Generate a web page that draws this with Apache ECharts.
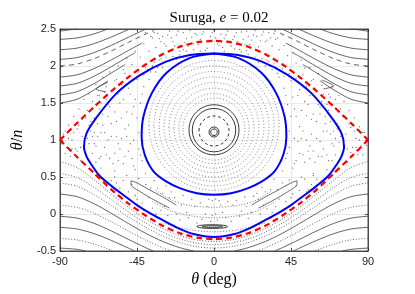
<!DOCTYPE html>
<html><head><meta charset="utf-8">
<script src="https://cdn.jsdelivr.net/npm/echarts@6/dist/echarts.min.js"></script>
<style>html,body{margin:0;padding:0;background:#fff}#c{width:415px;height:294px}</style>
</head><body><div id="c"></div>
<script>
// ---------- data ----------
const xTicks = [-90, -45, 0, 45, 90];
const yTicks = [-0.5, 0, 0.5, 1, 1.5, 2, 2.5];

const separatrixUpper = [[-90,1.0],[-80,1.23],[-70,1.45],[-60,1.66],[-50,1.85],[-40,2.02],[-30,2.16],[-20,2.26],[-10,2.32],[0,2.34],[10,2.32],[20,2.26],[30,2.16],[40,2.02],[50,1.85],[60,1.66],[70,1.45],[80,1.23],[90,1.0]];
const separatrixLower = [[-90,1.0],[-80,0.77],[-70,0.55],[-60,0.33],[-50,0.14],[-40,-0.02],[-30,-0.16],[-20,-0.26],[-10,-0.32],[0,-0.34],[10,-0.32],[20,-0.26],[30,-0.16],[40,-0.02],[50,0.14],[60,0.33],[70,0.55],[80,0.77],[90,1.0]];

const blueOuter = [[0,2.17],[-14,2.15],[-28,2.06],[-43,1.88],[-57,1.63],[-68.5,1.31],[-74.5,1.09],[-76,0.91],[-74.5,0.78],[-72,0.68],[-67,0.52],[-60,0.38],[-52,0.24],[-45,0.12],[-38,0.02],[-31,-0.07],[-22,-0.18],[-12,-0.27],[0,-0.31],[12,-0.27],[22,-0.18],[31,-0.07],[38,0.02],[45,0.12],[52,0.24],[60,0.38],[67,0.52],[72,0.68],[74.5,0.78],[76,0.91],[74.5,1.09],[68.5,1.31],[57,1.63],[43,1.88],[28,2.06],[14,2.15],[0,2.17]];
const blueInner = [[0,2.17],[-14,2.11],[-27.7,1.91],[-36.4,1.63],[-41.3,1.31],[-42.3,1.04],[-40.5,0.8],[-35.5,0.58],[-28,0.44],[-20,0.35],[-10,0.28],[0,0.26],[10,0.28],[20,0.35],[28,0.44],[35.5,0.58],[40.5,0.8],[42.3,1.04],[41.3,1.31],[36.4,1.63],[27.7,1.91],[14,2.11],[0,2.17]];

// rotation curves above the separatrix
const upper1L = [[-90,2.47],[-84,2.49],[-80,2.5]];
const upper2L = [[-90,2.36],[-80,2.38],[-70,2.435],[-62,2.5]];
const upper3L = [[-90,2.22],[-80,2.242],[-70,2.303],[-60,2.392],[-50,2.493],[-49.5,2.5]];
const upper4L = [[-90,2.09],[-80,2.114],[-70,2.182],[-60,2.279],[-50,2.389],[-40,2.497]];
const upper5L = [[-90,2.0],[-80,2.027],[-70,2.1],[-60,2.204],[-50,2.32],[-40,2.431],[-35,2.48]];
const upper6L = [[-90,1.85],[-80,1.881],[-70,1.966],[-60,2.082],[-50,2.21],[-42,2.31]];
const upper7L = [[-90,1.73],[-80,1.766],[-70,1.862],[-60,1.991],[-50,2.129],[-46,2.18]];
const upper8L = [[-90,1.61],[-80,1.653],[-70,1.763],[-60,1.906],[-52,2.02]];
const upper9L = [[-90,1.5],[-80,1.551],[-70,1.678],[-62,1.8]];
const upper1R = [[90,2.47],[84,2.49],[80,2.5]];
const upper2R = [[90,2.36],[80,2.38],[70,2.435],[62,2.5]];
const upper3R = [[90,2.22],[80,2.242],[70,2.303],[60,2.392],[50,2.493],[49.5,2.5]];
const upper4R = [[90,2.09],[80,2.114],[70,2.182],[60,2.279],[50,2.389],[40,2.497]];
const upper5R = [[90,2.0],[80,2.027],[70,2.1],[60,2.204],[50,2.32],[40,2.431],[35,2.48]];
const upper6R = [[90,1.85],[80,1.881],[70,1.966],[60,2.082],[50,2.21],[42,2.31]];
const upper7R = [[90,1.73],[80,1.766],[70,1.862],[60,1.991],[50,2.129],[46,2.18]];
const upper8R = [[90,1.61],[80,1.653],[70,1.763],[60,1.906],[52,2.02]];
const upper9R = [[90,1.5],[80,1.551],[70,1.678],[62,1.8]];

// rotation curves below the separatrix
const lower1 = [[-90,0.71],[-80,0.628],[-70,0.458],[-60,0.27],[-50,0.091],[-40,-0.067],[-30,-0.196],[-20,-0.292],[-10,-0.351],[0,-0.371],[10,-0.351],[20,-0.292],[30,-0.196],[40,-0.067],[50,0.091],[60,0.27],[70,0.458],[80,0.628],[90,0.71]];
const lower2 = [[-90,0.55],[-80,0.493],[-70,0.358],[-60,0.193],[-50,0.028],[-40,-0.121],[-30,-0.245],[-20,-0.337],[-10,-0.394],[0,-0.414],[10,-0.394],[20,-0.337],[30,-0.245],[40,-0.121],[50,0.028],[60,0.193],[70,0.358],[80,0.493],[90,0.55]];
const lower3 = [[-90,0.42],[-80,0.375],[-70,0.261],[-60,0.114],[-50,-0.038],[-40,-0.179],[-30,-0.297],[-20,-0.386],[-10,-0.442],[0,-0.46],[10,-0.442],[20,-0.386],[30,-0.297],[40,-0.179],[50,-0.038],[60,0.114],[70,0.261],[80,0.375],[90,0.42]];
const lower4L = [[-90,0.27],[-80,0.234],[-70,0.138],[-60,0.009],[-50,-0.129],[-40,-0.26],[-30,-0.371],[-20,-0.455],[-12,-0.5]];
const lower5L = [[-90,0.12],[-80,0.09],[-70,0.008],[-60,-0.106],[-50,-0.231],[-40,-0.352],[-30,-0.457],[-25,-0.5]];
const lower6L = [[-90,-0.03],[-80,-0.056],[-70,-0.127],[-60,-0.229],[-50,-0.343],[-40,-0.454],[-35.5,-0.5]];
const lower7L = [[-90,-0.18],[-80,-0.203],[-70,-0.266],[-60,-0.357],[-50,-0.461],[-46.3,-0.5]];
const lower8L = [[-90,-0.33],[-80,-0.35],[-70,-0.407],[-60,-0.489],[-58.8,-0.5]];
const lower9L = [[-90,-0.46],[-80,-0.478],[-75,-0.5]];
const lower4R = [[90,0.27],[80,0.234],[70,0.138],[60,0.009],[50,-0.129],[40,-0.26],[30,-0.371],[20,-0.455],[12,-0.5]];
const lower5R = [[90,0.12],[80,0.09],[70,0.008],[60,-0.106],[50,-0.231],[40,-0.352],[30,-0.457],[25,-0.5]];
const lower6R = [[90,-0.03],[80,-0.056],[70,-0.127],[60,-0.229],[50,-0.343],[40,-0.454],[35.5,-0.5]];
const lower7R = [[90,-0.18],[80,-0.203],[70,-0.266],[60,-0.357],[50,-0.461],[46.3,-0.5]];
const lower8R = [[90,-0.33],[80,-0.35],[70,-0.407],[60,-0.489],[58.8,-0.5]];
const lower9R = [[90,-0.46],[80,-0.478],[75,-0.5]];

// arcs between the two blue loops (bottom)
const arcBottom1 = [[-34,0.32],[-25,0.19],[-15,0.12],[0,0.09],[15,0.12],[25,0.19],[34,0.32]];
const arcBottom2 = [[-36,0.17],[-25,0.04],[-12,-0.03],[0,-0.05],[12,-0.03],[25,0.04],[36,0.17]];
const arcBottom3 = [[-30,-0.12],[-15,-0.21],[0,-0.24],[15,-0.21],[30,-0.12]];

// small islands
const tongueLeft = [[-22,0.12],[-30,0.23],[-38,0.33],[-45,0.42],[-48.5,0.45],[-48.5,0.4],[-43,0.3],[-35,0.19],[-26,0.08]];
const tongueRight = [[22,0.12],[30,0.23],[38,0.33],[45,0.42],[48.5,0.45],[48.5,0.4],[43,0.3],[35,0.19],[26,0.08]];
const chevronLeft = [[-62,1.78],[-69,1.69],[-63,1.65]];
const chevronRight = [[63,1.81],[70,1.73],[64,1.69]];

// libration rings: [thetaCentre, vCentre, halfWidthDeg, halfHeight]
const ringsSolid = [[0,1.105,1.93,0.045],[0,1.108,2.92,0.068],[0,1.133,12.7,0.293],[0,1.138,14.6,0.338]];
const ringsDashed = [[0,1.122,8.8,0.203]];
const ringsDotted = [[0,1.147,18.1,0.419],[0,1.153,20.5,0.473],[0,1.16,23.4,0.541],[0,1.168,26.3,0.608],[0,1.175,29.2,0.676],[0,1.183,32.1,0.743],[0,1.19,35.1,0.811],[0,1.198,38.0,0.878]];
const islandBottom = [[-1,-0.17,9,0.025],[-1,-0.17,6,0.011]];

// chaotic sea points
const chaosLeft = [[-73,0.95],[-72,1.12],[-71,0.82],[-70,1.3],[-69,0.7],[-68,1.05],[-67,1.42],[-66,0.62],[-65,1.2],[-64,0.9],[-63,1.55],[-62,1.32],[-61,0.75],[-60,1.05],[-59,1.68],[-58,0.58],[-57,1.25],[-56,0.95],[-55,1.5],[-54,1.75],[-53,0.68],[-52,1.15],[-51,1.38],[-50,0.85],[-49,1.62],[-48,1.8],[-47,1.0],[-46,0.6],[-45,1.3],[-44,1.92],[-43,1.5],[-42,0.72],[-41,1.72],[-40,1.98],[-38,1.82],[-36,2.0],[-34,1.92],[-32,2.08],[-30,1.98],[-26,2.07],[-22,2.09],[-18,2.12],
[-74,1.02],[-70,0.95],[-66,1.1],[-62,1.0],[-58,0.82],[-54,1.02],[-50,1.2],[-47,1.45],[-44,0.88],[-66,0.78],[-61,1.45],[-57,1.82],[-52,1.9],[-48,0.75],[-64,1.65],[-56,0.72],
[-88,1.08],[-86,0.9],[-85,1.2],[-83,1.0],[-82,1.32],[-80,1.15],[-79,1.42],[-77,1.28],[-76,1.55],[-74,1.4],[-73,1.62],[-71,1.52],[-69,1.75],[-67,1.6],[-65,1.85],[-63,1.72],[-61,1.92],[-58,1.8],[-56,2.0],[-53,1.95],[-51,2.1],[-48,2.02],[-46,2.2],[-43,2.12],[-41,2.3],[-38,2.2],[-36,2.38],[-34,2.25],[-31,2.33],
[-89,0.95],[-87,0.82],[-84,0.78],[-81,0.88],[-78,0.72],
[-60,0.45],[-58,0.5],[-55,0.35],[-53,0.45],[-51,0.52],[-50,0.3],[-46,0.25],[-44,0.48],[-42,0.15],[-40,0.4],[-38,0.22],[-36,0.08],[-35,0.45],[-33,0.35],[-31,0.05],[-30,0.28],[-28,0.38],[-27,-0.02],[-25,0.3],[-23,0.22],[-20,-0.08],[-18,0.25],[-16,0.02],[-13,0.2],[-10,-0.12],[-8,0.15],[-5,0.0],[-3,0.2],[-2,-0.1],
[-72,1.25],[-71,1.05],[-69,0.92],[-68,1.22],[-67,0.75],[-65,1.35],[-64,1.1],[-63,0.8],[-62,1.48],[-60,1.22],[-59,0.68],[-58,1.38],[-57,1.05],[-56,1.62],[-55,0.88],[-54,1.3],[-53,1.55],[-52,0.78],[-51,1.05],[-50,1.7],[-49,0.95],[-48,1.35],[-47,0.65],[-46,1.55],[-45,1.82],[-44,1.1],[-43,0.8],[-42,1.62],[-41,1.88],[-40,0.55],[-39,1.95],[-37,1.92],[-35,2.05],[-33,1.98],[-31,2.1],[-28,2.12],[-24,2.13],[-20,2.15],[-16,2.2],[-12,2.22],[-68,1.6],[-66,1.5],[-70,1.1],[-73,1.2],[-75,1.3],[-77,1.05],[-79,1.2],[-82,1.1],[-85,1.02],[-87,1.12],[-78,0.9],[-75,0.82],[-80,0.85],[-83,0.88],
[-57,0.42],[-54,0.28],[-48,0.4],[-45,0.2],[-41,0.05],[-37,0.35],[-34,0.0],[-29,0.1],[-26,0.22],[-22,0.0],[-19,0.12],[-15,-0.05],[-11,0.1],[-7,-0.07],[-4,0.1],[-1,-0.02],[-1,0.18]];
const chaosRight = [[73,0.97],[72,1.15],[71,0.8],[70,1.27],[69,0.72],[68,1.08],[67,1.4],[66,0.6],[65,1.22],[64,0.88],[63,1.52],[62,1.35],[61,0.78],[60,1.02],[59,1.7],[58,0.55],[57,1.28],[56,0.92],[55,1.48],[54,1.72],[53,0.7],[52,1.12],[51,1.4],[50,0.82],[49,1.6],[48,1.83],[47,1.02],[46,0.62],[45,1.32],[44,1.9],[43,1.48],[42,0.75],[41,1.7],[40,1.96],[38,1.85],[36,1.98],[34,1.95],[32,2.06],[30,2.0],[26,2.05],[22,2.1],[18,2.13],
[74,1.05],[70,0.92],[66,1.12],[62,0.98],[58,0.85],[54,1.0],[50,1.18],[47,1.42],[44,0.9],[66,0.8],[61,1.48],[57,1.8],[52,1.88],[48,0.72],[64,1.62],[56,0.75],
[88,1.1],[86,0.92],[85,1.18],[83,1.02],[82,1.3],[80,1.17],[79,1.4],[77,1.3],[76,1.52],[74,1.42],[73,1.6],[71,1.55],[69,1.72],[67,1.62],[65,1.83],[63,1.74],[61,1.9],[58,1.82],[56,1.98],[53,1.97],[51,2.08],[48,2.04],[46,2.18],[43,2.14],[41,2.28],[38,2.22],[36,2.36],[34,2.27],[31,2.35],
[89,0.93],[87,0.8],[84,0.8],[81,0.9],[78,0.7],
[60,0.47],[58,0.52],[55,0.33],[53,0.47],[51,0.5],[50,0.32],[46,0.27],[44,0.46],[42,0.17],[40,0.42],[38,0.2],[36,0.1],[35,0.47],[33,0.33],[31,0.07],[30,0.3],[28,0.36],[27,0.0],[25,0.28],[23,0.24],[20,-0.06],[18,0.23],[16,0.04],[13,0.18],[10,-0.1],[8,0.17],[5,0.02],[3,0.18],[2,-0.08],
[72,1.22],[71,1.02],[69,0.95],[68,1.25],[67,0.72],[65,1.32],[64,1.12],[63,0.78],[62,1.45],[60,1.25],[59,0.7],[58,1.35],[57,1.08],[56,1.6],[55,0.85],[54,1.33],[53,1.52],[52,0.8],[51,1.02],[50,1.68],[49,0.98],[48,1.32],[47,0.68],[46,1.58],[45,1.8],[44,1.12],[43,0.82],[42,1.6],[41,1.86],[40,0.58],[39,1.93],[37,1.9],[35,2.03],[33,2.0],[31,2.08],[28,2.1],[24,2.12],[20,2.16],[16,2.19],[12,2.23],[68,1.58],[66,1.48],[70,1.12],[73,1.18],[75,1.33],[77,1.08],[79,1.22],[82,1.12],[85,1.0],[87,1.1],[78,0.88],[75,0.8],[80,0.83],[83,0.9],
[57,0.4],[54,0.3],[48,0.38],[45,0.22],[41,0.07],[37,0.33],[34,0.02],[29,0.12],[26,0.2],[22,0.02],[19,0.1],[15,-0.03],[11,0.12],[7,-0.05],[4,0.12],[1,0.0],[1,0.2]];
const chaosTop = [[-30,2.4],[-28,2.27],[-26,2.47],[-24,2.33],[-22,2.42],[-20,2.28],[-18,2.45],[-16,2.37],[-14,2.48],[-12,2.3],[-10,2.42],[-8,2.36],[-6,2.46],[-4,2.24],[-2,2.4],[0,2.48],[2,2.3],[4,2.43],[6,2.37],[8,2.47],[10,2.27],[12,2.4],[14,2.33],[16,2.46],[18,2.29],[20,2.4],[22,2.35],[24,2.48],[26,2.26],[28,2.42],[30,2.33],[32,2.45],[-32,2.37],[-20,2.2],[15,2.22],[-8,2.2],[-25,2.38],[25,2.4],[-15,2.27],[5,2.25],[-35,2.45],[35,2.44],[-40,2.45],[40,2.42],[-11,2.44],[11,2.36],
[-29,2.3],[-27,2.42],[-23,2.27],[-21,2.47],[-17,2.32],[-13,2.39],[-9,2.29],[-7,2.43],[-3,2.33],[-1,2.45],[1,2.38],[3,2.28],[7,2.42],[9,2.32],[13,2.45],[17,2.36],[19,2.47],[21,2.29],[23,2.42],[27,2.34],[29,2.46],[33,2.38],[-33,2.44],[-37,2.4],[37,2.38],[-5,2.21],[6,2.2],[-18,2.22],[19,2.21]];

// ---------- chart ----------
const chart = echarts.init(document.getElementById('c'), null, {renderer: 'canvas'});
const serif = '"Liberation Serif","DejaVu Serif",serif';
const sans = '"Liberation Sans",Arial,sans-serif';
const dotted = [1, 1.8];

function curve(data, color, width, type, z) {
  return {type: 'line', data: data, xAxisIndex: 0, yAxisIndex: 0, showSymbol: false, symbol: 'none',
    smooth: 0.3, silent: true, z: z || 2,
    lineStyle: {color: color, width: width, type: type}};
}
function ellipses(data, color, width, dash) {
  return {type: 'custom', data: data, xAxisIndex: 0, yAxisIndex: 0, silent: true, z: 3,
    renderItem: function (params, api) {
      const c = api.coord([api.value(0), api.value(1)]);
      const p = api.coord([api.value(0) + api.value(2), api.value(1) + api.value(3)]);
      return {type: 'ellipse', shape: {cx: c[0], cy: c[1], rx: Math.abs(p[0] - c[0]), ry: Math.abs(c[1] - p[1])},
        style: {fill: 'none', stroke: color, lineWidth: width, lineDash: dash}};
    }};
}

const series = [];
series.push({type: 'scatter', data: chaosLeft.concat(chaosRight, chaosTop), symbolSize: 1.3, silent: true, z: 1,
  itemStyle: {color: '#4a4a4a'}});
[upper1L, upper2L, upper3L, upper4L, upper6L, upper7L, upper8L, upper9L,
 upper1R, upper2R, upper3R, upper4R, upper6R, upper7R, upper8R, upper9R].forEach(d => series.push(curve(d, '#3c3c3c', 0.8, 'solid')));
[upper5L, upper5R].forEach(d => series.push(curve(d, '#3c3c3c', 0.8, [5, 4])));
[lower4L, lower6L, lower7L, lower9L, lower4R, lower6R, lower7R, lower9R].forEach(d => series.push(curve(d, '#3c3c3c', 0.8, 'solid')));
[lower1, lower2, lower3, lower5L, lower8L, lower5R, lower8R].forEach(d => series.push(curve(d, '#555', 0.9, dotted)));
[arcBottom1, arcBottom2, arcBottom3].forEach(d => series.push(curve(d, '#666', 0.9, dotted)));
[tongueLeft, tongueRight, chevronLeft, chevronRight].forEach(d => series.push(curve(d, '#444', 0.8, 'solid')));
series.push(ellipses(ringsSolid, '#222', 0.9, null));
series.push(ellipses(ringsDashed, '#222', 0.9, [3, 2.5]));
series.push(ellipses(ringsDotted, '#6a6a6a', 0.8, [1, 2.2]));
series.push(ellipses(islandBottom, '#222', 0.9, null));
series.push(curve(blueOuter, '#0000ff', 2, 'solid', 5));
series.push(curve(blueInner, '#0000ff', 2, 'solid', 5));
series.push(Object.assign(curve(separatrixUpper, '#ff0000', 2.2, [6, 4], 6), {smooth: 0.2}));
series.push(Object.assign(curve(separatrixLower, '#ff0000', 2.2, [6, 4], 6), {smooth: 0.2}));

const xMin = xTicks[0], xMax = xTicks[xTicks.length - 1], xInt = xTicks[1] - xTicks[0];
const yMin = yTicks[0], yMax = yTicks[yTicks.length - 1], yInt = yTicks[1] - yTicks[0];
const tickCommon = {inside: true, length: 3, lineStyle: {color: '#262626', width: 0.8}};
const lineCommon = {show: true, onZero: false, lineStyle: {color: '#262626', width: 0.8}};

chart.setOption({
  animation: false,
  backgroundColor: '#fff',
  title: {text: 'Suruga, {i|e} = 0.02', left: 214, top: 6, textAlign: 'center',
    textStyle: {fontFamily: serif, fontSize: 15, fontWeight: 'normal', color: '#000',
      rich: {i: {fontFamily: serif, fontStyle: 'italic', fontSize: 15, color: '#000'}}}},
  grid: {left: 60, right: 47, top: 29, bottom: 43, show: true, borderColor: '#262626', borderWidth: 0.8, containLabel: false},
  xAxis: [{type: 'value', min: xMin, max: xMax, interval: xInt, position: 'bottom',
      name: '{i|θ} (deg)', nameLocation: 'middle', nameGap: 18,
      nameTextStyle: {fontFamily: serif, fontSize: 16, color: '#000', rich: {i: {fontFamily: serif, fontStyle: 'italic', fontSize: 16, color: '#000'}}},
      axisLine: lineCommon,
      axisTick: tickCommon,
      axisLabel: {fontFamily: sans, fontSize: 11, color: '#262626', margin: 5},
      splitLine: {show: true, lineStyle: {color: '#e3e3e3', width: 0.8}}},
    {type: 'value', min: xMin, max: xMax, interval: xInt, position: 'top',
      axisLine: lineCommon, axisTick: tickCommon,
      axisLabel: {show: false}, splitLine: {show: false}}],
  yAxis: [{type: 'value', min: yMin, max: yMax, interval: yInt, position: 'left',
      name: '{i|θ̇}/{i|n}', nameLocation: 'middle', nameGap: 30,
      nameTextStyle: {fontFamily: serif, fontSize: 16, color: '#000', rich: {i: {fontFamily: serif, fontStyle: 'italic', fontSize: 16, color: '#000'}}},
      axisLine: lineCommon,
      axisTick: tickCommon,
      axisLabel: {fontFamily: sans, fontSize: 11, color: '#262626', margin: 4},
      splitLine: {show: true, lineStyle: {color: '#e3e3e3', width: 0.8}}},
    {type: 'value', min: yMin, max: yMax, interval: yInt, position: 'right',
      axisLine: lineCommon, axisTick: tickCommon,
      axisLabel: {show: false}, splitLine: {show: false}}],
  series: series
});
</script>
</body></html>
